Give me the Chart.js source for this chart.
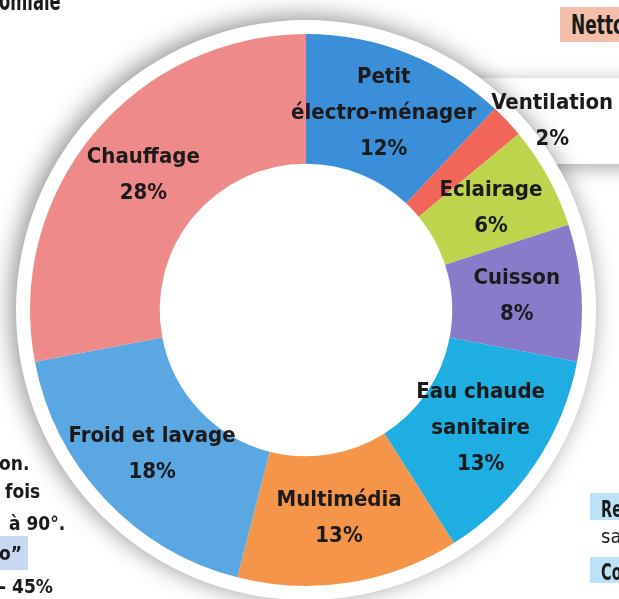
<!DOCTYPE html>
<html>
<head>
<meta charset="utf-8">
<script src="https://cdn.jsdelivr.net/npm/chart.js@4.4.1/dist/chart.umd.min.js"></script>
<style>
html, body { margin: 0; padding: 0; background: #fff; overflow: hidden; }
#wrap { position: relative; width: 619px; height: 599px; overflow: hidden; }
canvas { position: absolute; left: 0; top: 0; }
.t { position: absolute; font-family: "DejaVu Sans Condensed", "DejaVu Sans", sans-serif; font-size: 19px; font-weight: bold; line-height: 1; color: #1a1a1a; white-space: nowrap; transform-origin: left top; }
.n { transform: scaleX(0.7); }
</style>
</head>
<body>
<div id="wrap">
<canvas id="pieChart" width="619" height="599"></canvas>

<!-- bits of the surrounding page -->
<div class="t n" style="left:-1px; top:-12px; font-size:26px;">omiale</div>
<div class="t" style="left:560px; top:7px; width:70px; height:35px; background:#f3bfab;"></div>
<div class="t n" style="left:571px; top:11px; font-size:27px;">Netto</div>

<div class="t" style="left:-1px; top:454px;">on.</div>
<div class="t" style="left:5px; top:482px;">fois</div>
<div class="t" style="left:9px; top:514px;">à 90°.</div>
<div class="t" style="left:0px; top:536px; width:28px; height:34px; background:#c9d8f2;"></div>
<div class="t" style="left:-1px; top:544px;">o”</div>
<div class="t" style="left:-1px; top:577px;">- 45%</div>

<div class="t" style="left:590px; top:493px; width:40px; height:27px; background:#bde2f5;"></div>
<div class="t n" style="left:601px; top:498px; font-size:23px;">Re</div>
<div class="t" style="left:601px; top:526px; font-weight:normal; font-size:20px;">sa</div>
<div class="t" style="left:590px; top:557px; width:40px; height:26px; background:#bde2f5;"></div>
<div class="t n" style="left:601px; top:561px; font-size:23px;">Co</div>
</div>

<script>
const ctx = document.getElementById('pieChart').getContext('2d');

// categories (line breaks as in the picture) and shares in %
const categories = ['Petit\nélectro-ménager', 'Ventilation', 'Eclairage', 'Cuisson',
                    'Eau chaude\nsanitaire', 'Multimédia', 'Froid et lavage', 'Chauffage'];
const values = [12, 2, 6, 8, 13, 13, 18, 28];
const colours = ['#3a8fd8', '#f2665a', '#bcd54c', '#8a7bca', '#1eaee2', '#f5954a', '#5ba7e1', '#ee8b8a'];

const labelFont = 'bold 22px "DejaVu Sans Condensed", "DejaVu Sans", sans-serif';

// white rim with a soft shadow behind the ring, plus the box for the outside label
const ringBack = {
    id: 'ringBack',
    beforeDatasetsDraw(chart) {
        const meta = chart.getDatasetMeta(0);
        const first = meta.data[0];
        const c = chart.ctx;
        c.save();

        // box behind the small slice label
        meta.data.forEach((arc, i) => {
            if (values[i] >= 4) return;
            const mid = (arc.startAngle + arc.endAngle) / 2;
            const ox = arc.x + Math.cos(mid) * arc.outerRadius + 45;
            const oy = arc.y + Math.sin(mid) * arc.outerRadius;
            c.shadowColor = 'rgba(0,0,0,0.35)';
            c.shadowBlur = 18;
            c.shadowOffsetY = 4;
            c.fillStyle = '#fff';
            c.fillRect(ox - 82, oy - 43, 200, 86);
        });

        c.shadowColor = 'rgba(0,0,0,0.45)';
        c.shadowBlur = 24;
        c.shadowOffsetX = -4;
        c.shadowOffsetY = -3;
        c.fillStyle = '#fff';
        c.beginPath();
        c.arc(first.x, first.y, first.outerRadius + 14, 0, Math.PI * 2);
        c.fill();
        c.restore();
    }
};

const sliceLabels = {
    id: 'sliceLabels',
    afterDatasetsDraw(chart) {
        const meta = chart.getDatasetMeta(0);
        const c = chart.ctx;
        c.save();
        c.font = labelFont;
        c.fillStyle = '#1c1a1a';
        c.textAlign = 'center';
        c.textBaseline = 'middle';
        meta.data.forEach((arc, i) => {
            const lines = categories[i].split('\n').concat(values[i] + '%');
            let x, y;
            if (values[i] < 4) {
                const mid = (arc.startAngle + arc.endAngle) / 2;
                x = arc.x + Math.cos(mid) * arc.outerRadius + 45;
                y = arc.y + Math.sin(mid) * arc.outerRadius;
            } else {
                const p = arc.tooltipPosition();
                x = p.x;
                y = p.y;
            }
            lines.forEach((txt, k) => {
                c.fillText(txt, x, y + (k - (lines.length - 1) / 2) * 36);
            });
        });
        c.restore();
    }
};

const chartConfig = {
    type: 'doughnut',
    data: {
        labels: categories,
        datasets: [
            {
                data: values,
                backgroundColor: colours,
                borderWidth: 0
            }
        ]
    },
    options: {
        responsive: false,
        animation: false,
        cutout: '53%',
        layout: {
            padding: { left: 30, right: 37, top: 34, bottom: 13 }
        },
        plugins: {
            legend: { display: false },
            tooltip: { enabled: false }
        }
    },
    plugins: [ringBack, sliceLabels]
};

const pieChart = new Chart(ctx, chartConfig);
</script>
</body>
</html>
